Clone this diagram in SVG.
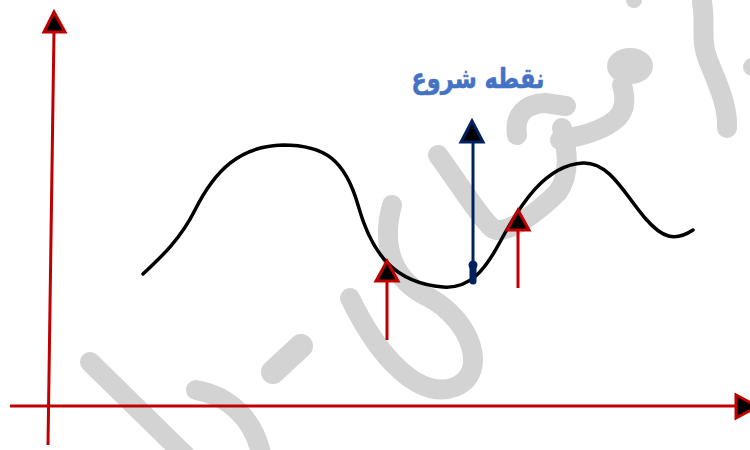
<svg xmlns="http://www.w3.org/2000/svg" width="750" height="450" viewBox="0 0 750 450">
  <style>
    .wm { fill: none; stroke: #D3D3D3; stroke-width: 20; stroke-linecap: round; stroke-linejoin: round; }
    .axis { stroke: #C00000; stroke-width: 3; fill: none; }
    .rhead { fill: #000000; stroke: #C00000; stroke-width: 3; stroke-linejoin: miter; }
    .nhead { fill: #000000; stroke: #002060; stroke-width: 3; }
    .curve { fill: none; stroke: #000000; stroke-width: 3.5; stroke-linecap: round; }
    .label { font-family: "DejaVu Sans", "Noto Sans", sans-serif; font-weight: bold; font-size: 28px; fill: #4472C4; stroke: #4472C4; stroke-width: 0.6; }
  </style>
  <rect width="750" height="450" fill="#ffffff"/>
  <g id="watermark">
    <path class="wm" d="M90,362 L190,460"/>
    <path class="wm" d="M196,390 C230,396 255,420 262,458"/>
    <path class="wm" style="stroke-width:24" d="M273,372 L301,346"/>
    <path class="wm" d="M350,298 C380,360 420,400 455,387 C490,372 470,320 430,298 C395,282 380,250 392,205"/>
    <path class="wm" d="M438,155 C460,185 478,215 492,228 C505,238 540,210 558,192 C572,172 566,145 562,128"/>
    <path class="wm" d="M517,135 C514,115 525,104 545,103 L566,106"/>
    <path class="wm" d="M560,140 C580,136 600,132 615,120 C627,110 625,95 622,85"/>
    <ellipse cx="630" cy="66" rx="23" ry="18" fill="#D3D3D3"/>
    <path class="wm" d="M702,2 C706,25 700,40 708,60 C718,85 728,105 727,128"/>
    <circle cx="634" cy="0" r="8" fill="#D3D3D3"/>
    <circle cx="752" cy="67" r="9" fill="#D3D3D3"/>
  </g>
  <g id="curve">
    <path class="curve" d="M143,274 C160,258 180,240 195,210 C215,170 240,146 283,145 C325,145 345,160 358,205 C372,255 395,283 443,287 C470,289 485,270 500,242 C520,205 545,165 583,163 C610,162 625,195 645,218 C662,238 675,242 693,230"/>
  </g>
  <g id="connectors">
    <g id="y-axis">
      <line class="axis" x1="48" y1="445" x2="54" y2="30"/>
      <polygon class="rhead" points="54,12 65,32 44,32"/>
    </g>
    <g id="x-axis">
      <line class="axis" x1="10" y1="406" x2="736" y2="406"/>
      <polygon class="rhead" points="736,395 736,418 758,406.5"/>
    </g>
    <g id="arrow-left">
      <line class="axis" x1="387" y1="340" x2="387" y2="282"/>
      <polygon class="rhead" points="387,261 398,281 376,281"/>
    </g>
    <g id="arrow-right">
      <line class="axis" x1="518" y1="288" x2="518" y2="231"/>
      <polygon class="rhead" points="518,210 529,230 507,230"/>
    </g>
    <g id="start-arrow">
      <line x1="473" y1="265" x2="473" y2="142" stroke="#002060" stroke-width="3"/>
      <line x1="473" y1="265" x2="473" y2="281" stroke="#002060" stroke-width="7" stroke-linecap="round"/>
      <circle cx="473" cy="265" r="4.5" fill="#002060"/>
      <polygon class="nhead" points="472,121 483,142 461,142"/>
    </g>
  </g>
  <g id="label">
    <text class="label" x="478" y="88" text-anchor="middle" direction="rtl" transform="translate(478,0) scale(0.8,1) translate(-478,0)">نقطه شروع</text>
  </g>
</svg>
